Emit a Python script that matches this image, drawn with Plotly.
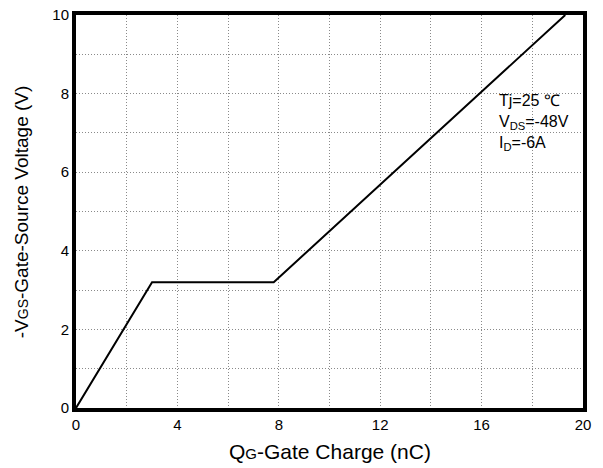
import plotly.graph_objects as go

qg = [0, 3.0, 7.8, 19.3]
vgs = [0, 3.2, 3.2, 10]
x_ticks = [0, 4, 8, 12, 16, 20]
y_ticks = [0, 2, 4, 6, 8, 10]

fig = go.Figure()
fig.add_trace(go.Scatter(x=qg, y=vgs, mode="lines",
                         line=dict(color="black", width=2), showlegend=False))

grid = dict(showgrid=True, gridcolor="#8a8a8a", griddash="1px,2px", gridwidth=1)
axis_common = dict(showline=True, linecolor="black", linewidth=4, mirror=True,
                   zeroline=False, ticks="", automargin=False,
                   tickfont=dict(size=15, color="black", family="Arial"),
                   **grid)

fig.update_xaxes(range=[0, 20], tickvals=x_ticks, minor=dict(dtick=2, **grid), **axis_common)
fig.update_yaxes(range=[0, 10], tickvals=y_ticks, minor=dict(dtick=1, **grid), **axis_common)

# axis titles as paper annotations
fig.add_annotation(x=0.5, y=-0.11, xref="paper", yref="paper", xanchor="center", yanchor="middle",
                   text='Q<span style="font-size:15px">G</span>-Gate Charge (nC)',
                   showarrow=False, font=dict(size=21, color="black", family="Arial"))
fig.add_annotation(x=-0.107, y=0.5, xref="paper", yref="paper", xanchor="center", yanchor="middle",
                   text='-V<span style="font-size:14px">GS</span>-Gate-Source Voltage (V)',
                   textangle=-90, showarrow=False, font=dict(size=19, color="black", family="Arial"))

fig.add_annotation(x=16.6, y=8.1, xref="x", yref="y", xanchor="left", yanchor="top",
                   text="Tj=25 ℃<br>V<sub>DS</sub>=-48V<br>I<sub>D</sub>=-6A",
                   showarrow=False, align="left",
                   font=dict(size=16, color="black", family="Arial"))

fig.update_layout(width=603, height=468, margin=dict(l=76, r=20, t=15, b=60),
                  plot_bgcolor="white", paper_bgcolor="white",
                  font=dict(family="Arial", color="black"))

fig.write_html("out.html")
